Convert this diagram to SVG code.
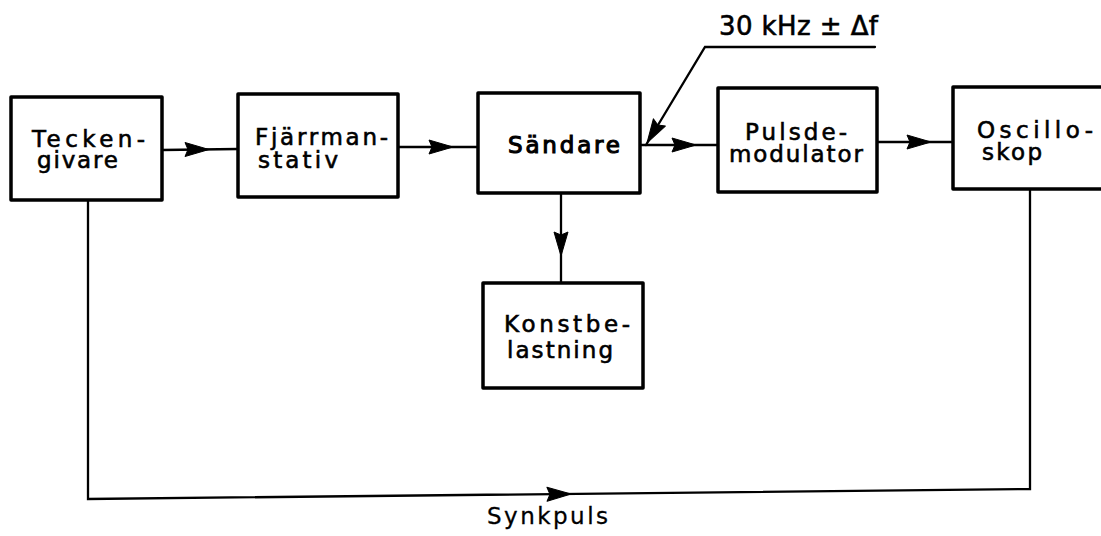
<svg xmlns="http://www.w3.org/2000/svg" xmlns:xlink="http://www.w3.org/1999/xlink" width="1101" height="536" viewBox="0 0 1101 536">
<style>
.box{fill:#fff;stroke:#000;stroke-width:3.5;stroke-linejoin:round}
.lbl{font-family:"DejaVu Sans","Liberation Sans",sans-serif;font-size:23px;fill:#000;stroke:#000;stroke-width:0.6}
.ln{fill:none;stroke:#000;stroke-width:2.3;stroke-linecap:round}
.ah{fill:#000;stroke:#000;stroke-width:1;stroke-linejoin:round}
</style>
<defs>
<path id="ah" d="M0,0 L-24,-7 L-21,0 L-24,7 Z"/>
</defs>
<rect width="1101" height="536" fill="#fff"/>
<g id="connectors">
<line class="ln" x1="162" y1="150" x2="238" y2="149"/>
<use xlink:href="#ah" class="ah" transform="translate(209,149.5)"/>
<line class="ln" x1="398" y1="147" x2="478" y2="147"/>
<use xlink:href="#ah" class="ah" transform="translate(453,147)"/>
<line class="ln" x1="640" y1="145" x2="718" y2="145"/>
<use xlink:href="#ah" class="ah" transform="translate(696,145)"/>
<line class="ln" x1="877" y1="142" x2="953" y2="142"/>
<use xlink:href="#ah" class="ah" transform="translate(931,142)"/>
<line class="ln" x1="561" y1="193" x2="561" y2="283"/>
<use xlink:href="#ah" class="ah" transform="translate(561,256) rotate(90)"/>
<polyline class="ln" points="875,47 705,47 646,145"/>
<use xlink:href="#ah" class="ah" transform="translate(647,143) rotate(121)"/>
<polyline class="ln" points="88,200 88,499 1030,489 1030,189"/>
<use xlink:href="#ah" class="ah" transform="translate(571,494) rotate(-0.6)"/>
<text class="lbl" x="719" y="35" textLength="159" lengthAdjust="spacing" style="font-size:26px">30 kHz ± Δf</text>
<text class="lbl" x="487" y="524" textLength="121" lengthAdjust="spacing" style="stroke-width:0.3">Synkpuls</text>
</g>
<g id="teckengivare">
<rect class="box" x="11" y="97" width="151" height="103"/>
<text class="lbl"><tspan x="32" y="147" textLength="113" lengthAdjust="spacing">Tecken-</tspan><tspan x="37" y="168" textLength="81" lengthAdjust="spacing">givare</tspan></text>
</g>
<g id="fjarrmanstativ">
<rect class="box" x="238" y="94" width="160" height="103"/>
<text class="lbl"><tspan x="255" y="145" textLength="133" lengthAdjust="spacing">Fjärrman-</tspan><tspan x="258" y="168" textLength="80" lengthAdjust="spacing">stativ</tspan></text>
</g>
<g id="sandare">
<rect class="box" x="478" y="93" width="162" height="100"/>
<text class="lbl" x="508" y="153" textLength="112" lengthAdjust="spacing" style="stroke-width:1.1">Sändare</text>
</g>
<g id="pulsdemodulator">
<rect class="box" x="718" y="88" width="159" height="104"/>
<text class="lbl"><tspan x="745" y="140" textLength="102" lengthAdjust="spacing">Pulsde-</tspan><tspan x="729" y="162" textLength="134" lengthAdjust="spacing">modulator</tspan></text>
</g>
<g id="oscilloskop">
<rect class="box" x="953" y="87" width="155" height="102"/>
<text class="lbl"><tspan x="977" y="138" textLength="116" lengthAdjust="spacing">Oscillo-</tspan><tspan x="982" y="160" textLength="60" lengthAdjust="spacing">skop</tspan></text>
</g>
<g id="konstbelastning">
<rect class="box" x="483" y="283" width="160" height="105"/>
<text class="lbl"><tspan x="504" y="332" textLength="126" lengthAdjust="spacing">Konstbe-</tspan><tspan x="507" y="358" textLength="106" lengthAdjust="spacing">lastning</tspan></text>
</g>
</svg>
